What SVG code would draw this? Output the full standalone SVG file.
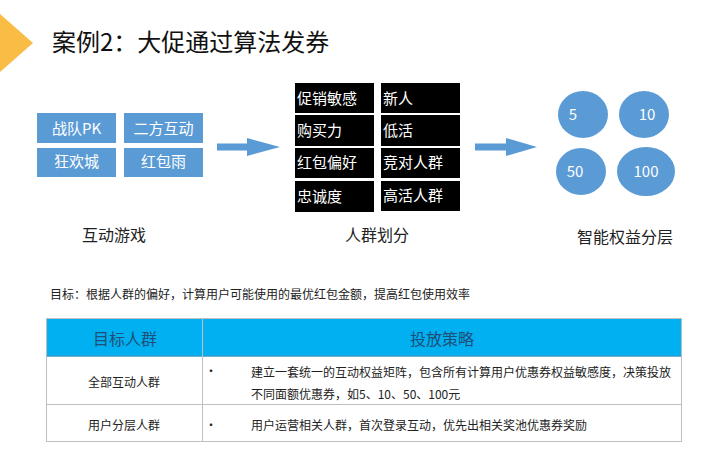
<svg xmlns="http://www.w3.org/2000/svg" width="714" height="476" viewBox="0 0 714 476">
<style>
text{font-family:"Noto Sans CJK SC","Noto Sans",sans-serif}
.bb{fill:#5B9BD5}
.bt{fill:#fff;font-size:15px;text-anchor:middle}
.kb{fill:#000}
.kt{fill:#fff;font-size:15px}
.ct{fill:#fff;font-size:15px;text-anchor:middle}
.lab{fill:#222;font-size:16px;text-anchor:middle}
.body{fill:#222;font-size:12px}
.bc{fill:#222;font-size:12px;text-anchor:middle}
.hd{fill:#1F4E79;font-size:16px;text-anchor:middle}
.grid{stroke:#BFBFBF;stroke-width:1;fill:none}
.arr{fill:#5B9BD5}
</style>
<rect width="714" height="476" fill="#fff"/>
<g id="title">
<polygon points="0,14 33,43 0,72" fill="#F9BC45"/>
<text x="52" y="51" style="font-size:24px;fill:#111">案例2：大促通过算法发券</text>
</g>
<g id="games">
<rect class="bb" x="37" y="113" width="79" height="30"/>
<text class="bt" x="76.5" y="134">战队PK</text>
<rect class="bb" x="124" y="113" width="79" height="30"/>
<text class="bt" x="163.5" y="134">二方互动</text>
<rect class="bb" x="37" y="148" width="79" height="29"/>
<text class="bt" x="76.5" y="167">狂欢城</text>
<rect class="bb" x="124" y="148" width="79" height="29"/>
<text class="bt" x="163.5" y="167">红包雨</text>
<text class="lab" x="114" y="241">互动游戏</text>
</g>
<g id="crowd">
<rect class="kb" x="295" y="83" width="79" height="30"/>
<text class="kt" x="297" y="104">促销敏感</text>
<rect class="kb" x="381" y="83" width="79" height="30"/>
<text class="kt" x="383" y="104">新人</text>
<rect class="kb" x="295" y="115" width="79" height="31"/>
<text class="kt" x="297" y="136">购买力</text>
<rect class="kb" x="381" y="115" width="79" height="31"/>
<text class="kt" x="383" y="136">低活</text>
<rect class="kb" x="295" y="148" width="79" height="30"/>
<text class="kt" x="297" y="168">红包偏好</text>
<rect class="kb" x="381" y="148" width="79" height="30"/>
<text class="kt" x="383" y="168">竞对人群</text>
<rect class="kb" x="295" y="181" width="79" height="31"/>
<text class="kt" x="297" y="202">忠诚度</text>
<rect class="kb" x="381" y="181" width="79" height="30"/>
<text class="kt" x="383" y="201">高活人群</text>
<text class="lab" x="377" y="241">人群划分</text>
</g>
<g id="tiers">
<ellipse class="bb" cx="583" cy="114.5" rx="25" ry="23.5"/>
<text class="ct" x="573" y="120">5</text>
<ellipse class="bb" cx="644" cy="114.5" rx="25" ry="23.5"/>
<text class="ct" x="647" y="120">10</text>
<ellipse class="bb" cx="581" cy="171.5" rx="25" ry="23.5"/>
<text class="ct" x="575" y="177">50</text>
<ellipse class="bb" cx="646" cy="171.5" rx="29" ry="24.5"/>
<text class="ct" x="646" y="177">100</text>
<text class="lab" x="625" y="243">智能权益分层</text>
</g>
<g id="connectors">
<polygon class="arr" points="217,143.5 247,143.5 247,138 280,147 247,156 247,150.5 217,150.5"/>
<polygon class="arr" points="475,143.5 506,143.5 506,138 537,147 506,156 506,150.5 475,150.5"/>
</g>
<g id="goal">
<text class="body" x="50" y="299">目标：根据人群的偏好，计算用户可能使用的最优红包金额，提高红包使用效率</text>
</g>
<g id="table">
<rect x="46" y="318" width="636" height="38" fill="#00B0F0"/>
<line x1="46" y1="356" x2="682" y2="356" stroke="#2E9CCB" stroke-width="1.5"/>
<text class="hd" x="125" y="345">目标人群</text>
<text class="hd" x="442" y="345">投放策略</text>
<rect class="grid" x="46.5" y="318.5" width="635" height="123"/>
<line class="grid" x1="202.5" y1="318" x2="202.5" y2="442"/>
<line class="grid" x1="46" y1="404.5" x2="682" y2="404.5"/>
<text class="bc" x="124" y="386.5">全部互动人群</text>
<text class="body" x="205" y="376">•</text>
<text class="body" x="251" y="376.5">建立一套统一的互动权益矩阵，包含所有计算用户优惠券权益敏感度，决策投放</text>
<text class="body" x="251" y="398.5">不同面额优惠券，如5、10、50、100元</text>
<text class="bc" x="124" y="430">用户分层人群</text>
<text class="body" x="205" y="430">•</text>
<text class="body" x="251" y="430">用户运营相关人群，首次登录互动，优先出相关奖池优惠券奖励</text>
</g>
</svg>
